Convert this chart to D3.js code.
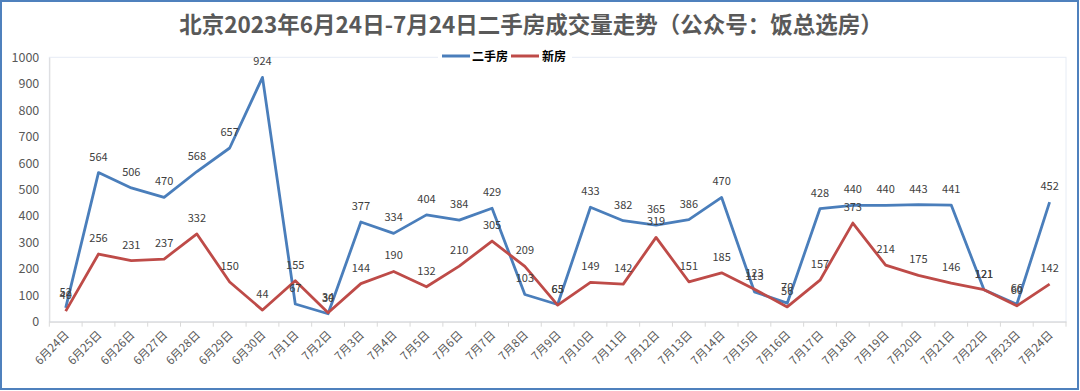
<!DOCTYPE html>
<html><head><meta charset="utf-8">
<script src="https://cdn.jsdelivr.net/npm/d3@7"></script>
<style>html,body{margin:0;padding:0;background:#fff;}svg{display:block;}</style>
</head><body>
<svg id="c" width="1080" height="391"></svg>
<script>
const categories = ["6月24日","6月25日","6月26日","6月27日","6月28日","6月29日","6月30日","7月1日","7月2日","7月3日","7月4日","7月5日","7月6日","7月7日","7月8日","7月9日","7月10日","7月11日","7月12日","7月13日","7月14日","7月15日","7月16日","7月17日","7月18日","7月19日","7月20日","7月21日","7月22日","7月23日","7月24日"];
const secondHand = [52,564,506,470,568,657,924,67,30,377,334,404,384,429,103,65,433,382,365,386,470,113,70,428,440,440,443,441,121,66,452];
const newHomes = [40,256,231,237,332,150,44,155,34,144,190,132,210,305,209,63,149,142,319,151,185,123,56,157,373,214,175,146,121,60,142];
const yTicks = [0,100,200,300,400,500,600,700,800,900,1000];
const seriesNames = ["二手房","新房"];
const colors = ["#4a7ebb","#be4b48"];
const titleText = "北京2023年6月24日-7月24日二手房成交量走势（公众号：饭总选房）";

const svg = d3.select("#c");
const font = "'Noto Sans CJK SC','Microsoft YaHei',sans-serif";
const L = 49.3, R = 1066, T = 57.3, B = 321.7;

svg.append("rect").attr("x",1).attr("y",1).attr("width",1077).attr("height",388)
  .attr("fill","#fff").attr("stroke","#4f81bd").attr("stroke-width",2);

const x = d3.scaleBand().domain(categories).range([L,R]).padding(0);
const y = d3.scaleLinear().domain([0,1000]).range([B,T]);

svg.append("rect").attr("x",L).attr("y",T).attr("width",R-L).attr("height",B-T)
  .attr("fill","none").attr("stroke","#e6ecf5").attr("stroke-width",1);

const ya = svg.append("g").attr("transform",`translate(${L},0)`)
  .call(d3.axisLeft(y).tickValues(yTicks).tickFormat(d3.format("d")).tickSize(0).tickPadding(10));
ya.select(".domain").attr("stroke","#d9d9d9");
ya.selectAll("text").attr("font-family",font).attr("font-size",12.5).attr("fill","#595959");

const xa = svg.append("g").attr("transform",`translate(0,${B})`)
  .call(d3.axisBottom(x).tickSize(0).tickPadding(0));
xa.select(".domain").attr("stroke","#d9d9d9").attr("stroke-width",1.2);
xa.selectAll(".tick line").remove();
xa.selectAll(".tick text").attr("font-family",font).attr("font-size",11.5).attr("fill","#595959")
  .attr("text-anchor","end").attr("dy",0).attr("transform","translate(4,14) rotate(-45)");
const bounds = categories.map(c=>x(c)).concat([R]);
svg.append("g").selectAll("line").data(bounds).join("line")
  .attr("x1",d=>d).attr("x2",d=>d).attr("y1",B).attr("y2",B+5)
  .attr("stroke","#d9d9d9").attr("stroke-width",1);

const cx = c => x(c) + x.bandwidth()/2;
const line = d3.line().x((d,i)=>cx(categories[i])).y(d=>y(d));
[secondHand,newHomes].forEach((s,k)=>{
  svg.append("path").datum(s).attr("d",line).attr("fill","none")
    .attr("stroke",colors[k]).attr("stroke-width",2.8).attr("stroke-linejoin","round");
});
[secondHand,newHomes].forEach((s,k)=>{
  svg.append("g").selectAll("text").data(s).join("text")
    .attr("x",(d,i)=>cx(categories[i])).attr("y",d=>y(d)-12)
    .attr("text-anchor","middle").attr("font-family",font).attr("font-size",11)
    .attr("fill","#404040").text(d=>d);
});

svg.append("text").attr("x",531).attr("y",33).attr("text-anchor","middle")
  .attr("font-family",font).attr("font-weight","bold").attr("font-size",22.5)
  .attr("fill","#595959").text(titleText);

const lg = svg.append("g");
lg.append("rect").attr("x",438).attr("y",48).attr("width",134).attr("height",16).attr("fill","#fff");
const legendItems = [{x1:442,x2:470,tx:472},{x1:511,x2:539,tx:542}];
legendItems.forEach((it,k)=>{
  lg.append("line").attr("x1",it.x1).attr("x2",it.x2).attr("y1",56).attr("y2",56)
    .attr("stroke",colors[k]).attr("stroke-width",3);
  lg.append("text").attr("x",it.tx).attr("y",60.5).attr("font-family",font)
    .attr("font-weight","bold").attr("font-size",12).attr("fill","#000").text(seriesNames[k]);
});
</script>
</body></html>
